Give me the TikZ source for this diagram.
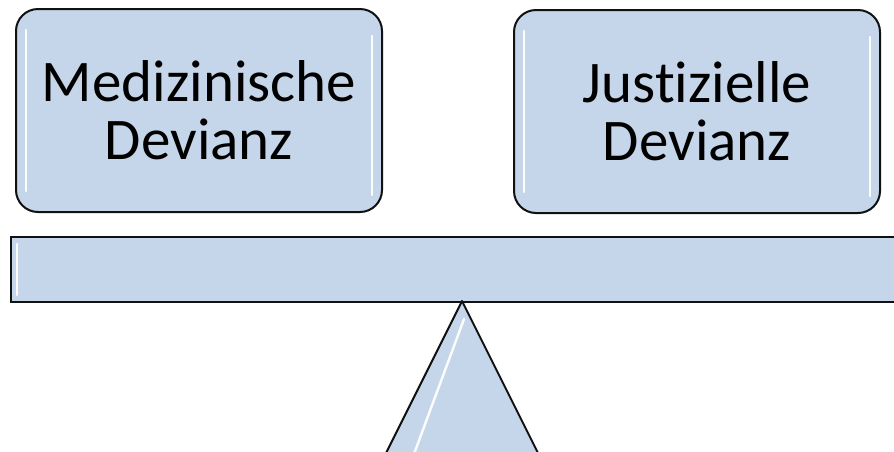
\documentclass[tikz,border=0pt]{standalone}
\usepackage{fontspec}
\setmainfont{Carlito}[Ligatures=NoCommon]
\usetikzlibrary{calc}
\definecolor{boxfill}{HTML}{C5D5EA}
\definecolor{boxline}{HTML}{111111}
\tikzset{
  devbox/.style={draw=boxline, line width=2pt, fill=boxfill, rounded corners=22pt,
    minimum width=366pt, minimum height=203pt, inner sep=0pt,
    align=center, font=\fontsize{59pt}{58pt}\selectfont},
  plank/.style={draw=boxline, line width=2pt, fill=boxfill},
  gloss/.style={white, line width=2.4pt, line cap=round, opacity=0.95}
}
\begin{document}
\begin{tikzpicture}[x=1pt,y=-1pt]
\useasboundingbox (0,0) rectangle (894,451);
\clip (0,0) rectangle (894,451);
\node[devbox] (med) at (199,110.5) {Medizinische\\Devianz};
\node[devbox] (jus) at (697,111.5) {Justizielle\\Devianz};
% glossy highlights on boxes
\draw[gloss] ([xshift=11pt,yshift=-22pt]med.north west) -- ([xshift=11pt,yshift=22pt]med.south west);
\draw[gloss] ([xshift=-11pt,yshift=-28pt]med.north east) -- ([xshift=-11pt,yshift=18pt]med.south east);
\draw[gloss] ([xshift=11pt,yshift=-22pt]jus.north west) -- ([xshift=11pt,yshift=22pt]jus.south west);
\draw[gloss] ([xshift=-11pt,yshift=-28pt]jus.north east) -- ([xshift=-11pt,yshift=18pt]jus.south east);
% plank
\node[plank, minimum width=900pt, minimum height=65pt, inner sep=0pt, anchor=north west] (bar) at (10,236) {};
\draw[gloss] ([xshift=7pt,yshift=-8pt]bar.north west) -- ([xshift=7pt,yshift=8pt]bar.south west);
% fulcrum
\coordinate (apex) at (462,301);
\coordinate (bl) at (377,471);
\coordinate (br) at (547,471);
\draw[plank, line join=round] (apex) -- (bl) -- (br) -- cycle;
\draw[gloss] ($(apex)+(2,18)$) -- ($(apex)+(-58,180)$);
\end{tikzpicture}
\end{document}
